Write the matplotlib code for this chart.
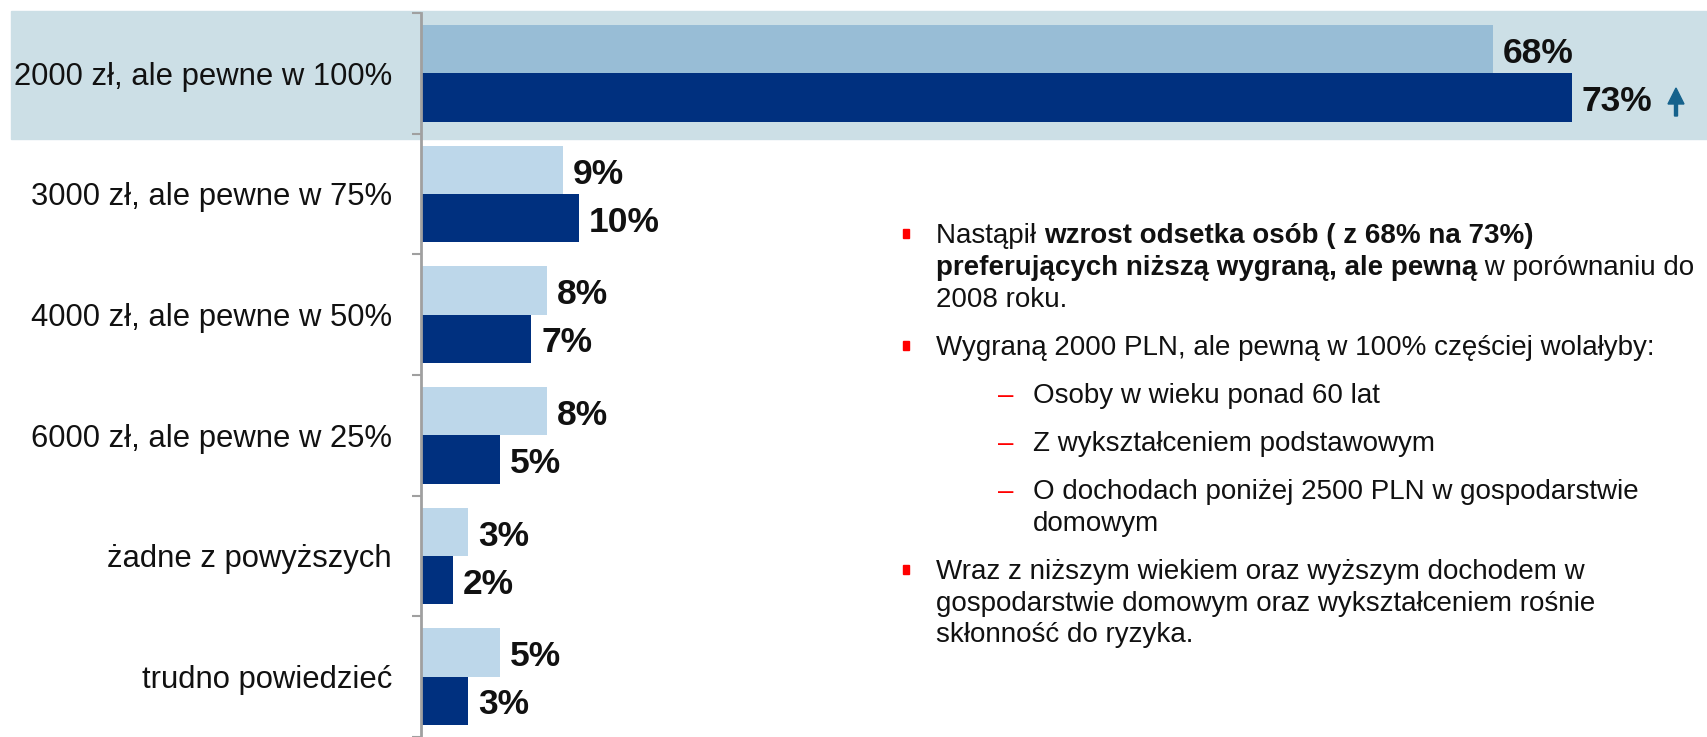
import numpy as np
import matplotlib
matplotlib.use("Agg")
import matplotlib.pyplot as plt
from matplotlib.patches import Rectangle, FancyArrow

plt.rcParams["font.family"] = ["Liberation Sans", "DejaVu Sans"]

categories = [
    "2000 zł, ale pewne w 100%",
    "3000 zł, ale pewne w 75%",
    "4000 zł, ale pewne w 50%",
    "6000 zł, ale pewne w 25%",
    "żadne z powyższych",
    "trudno powiedzieć",
]
v_2008 = [68, 9, 8, 8, 3, 5]
v_2010 = [73, 10, 7, 5, 2, 3]
value_labels_2008 = ["68%", "9%", "8%", "8%", "3%", "5%"]
value_labels_2010 = ["73%", "10%", "7%", "5%", "2%", "3%"]

# bullet text: (kind, list of lines, each line a list of (text, weight) runs)
bullets = [
    ("main", [[("Nastąpił ", "normal"), ("wzrost odsetka osób ( z 68% na 73%)", "bold")],
              [("preferujących niższą wygraną, ale pewną", "bold"), (" w porównaniu do", "normal")],
              [("2008 roku.", "normal")]]),
    ("main", [[("Wygraną 2000 PLN, ale pewną w 100% częściej wolałyby:", "normal")]]),
    ("sub", [[("Osoby w wieku ponad 60 lat", "normal")]]),
    ("sub", [[("Z wykształceniem podstawowym", "normal")]]),
    ("sub", [[("O dochodach poniżej 2500 PLN w gospodarstwie", "normal")],
             [("domowym", "normal")]]),
    ("main", [[("Wraz z niższym wiekiem oraz wyższym dochodem w", "normal")],
              [("gospodarstwie domowym oraz wykształceniem rośnie", "normal")],
              [("skłonność do ryzyka.", "normal")]]),
]
line_y = [236, 268, 300, 348, 396, 444, 492, 524, 572, 604, 635]

W, H = 1708, 737
C_BAND = "#CCDFE6"
C_LIGHT = "#BDD7EA"
C_LIGHT_HI = "#98BDD6"
C_DARK = "#00307F"
C_AXIS = "#A0A0A0"
C_TEXT = "#111111"


def fx(px):
    return px / W


def fy(py):
    return 1 - py / H


def text_width(fig, renderer, s, size, weight):
    """Width in pixels, spaces included (measured between two I's)."""
    t1 = fig.text(0, 0, "I" + s + "I", fontsize=size, fontweight=weight)
    t2 = fig.text(0, 0, "II", fontsize=size, fontweight=weight)
    w = t1.get_window_extent(renderer).width - t2.get_window_extent(renderer).width
    t1.remove()
    t2.remove()
    return w


def main() -> None:
    fig = plt.figure(figsize=(W / 100, H / 100), dpi=100)
    renderer = fig.canvas.get_renderer()

    # highlight band for the first category
    fig.patches.append(Rectangle((fx(11), fy(139)), fx(W - 11), (139 - 11) / H,
                                 transform=fig.transFigure, color=C_BAND, zorder=-10))

    ax_left, ax_top = 421, 13
    ax = fig.add_axes([fx(ax_left), 0, fx(W - ax_left), (H - ax_top) / H])
    ax.patch.set_alpha(0)

    y = np.arange(len(categories))
    h = 0.4
    light_colors = [C_LIGHT_HI] + [C_LIGHT] * (len(categories) - 1)
    ax.barh(y - h / 2, v_2008, height=h, color=light_colors, zorder=2)
    ax.barh(y + h / 2, v_2010, height=h, color=C_DARK, zorder=2)

    px_per_unit = (1572 - ax_left) / 73
    ax.set_xlim(0, (W - ax_left) / px_per_unit)
    ax.set_ylim(len(categories) - 0.5, -0.5)

    for i in range(len(categories)):
        ax.annotate(value_labels_2008[i], (v_2008[i], y[i] - h / 2), xytext=(7, -3),
                    textcoords="offset points", va="center", ha="left",
                    fontsize=25.5, fontweight="bold", color=C_TEXT)
        ax.annotate(value_labels_2010[i], (v_2010[i], y[i] + h / 2), xytext=(7, -3),
                    textcoords="offset points", va="center", ha="left",
                    fontsize=25.5, fontweight="bold", color=C_TEXT)

    ax.set_yticks(y)
    ax.set_yticklabels(categories, fontsize=22.3, color=C_TEXT)
    ax.tick_params(axis="y", which="major", length=0, pad=21)
    ax.set_yticks(np.arange(-0.5, len(categories), 1.0), minor=True)
    ax.tick_params(axis="y", which="minor", length=6.5, width=1.5, color=C_AXIS)
    ax.set_xticks([])
    for side in ["top", "right", "bottom"]:
        ax.spines[side].set_visible(False)
    ax.spines["left"].set_color(C_AXIS)
    ax.spines["left"].set_linewidth(2)

    # arrow showing the increase
    fig.patches.append(FancyArrow(fx(1676), fy(116), 0, (116 - 88) / H,
                                  width=fx(3), head_width=fx(16), head_length=16 / H,
                                  length_includes_head=True, transform=fig.transFigure,
                                  color="#15628C", zorder=5))

    # bullet text on the right
    size = 20
    x_main, x_sub = 936, 1033
    k = 0
    for kind, lines in bullets:
        first_y = line_y[k]
        if kind == "main":
            fig.patches.append(Rectangle((fx(903), fy(first_y + 2)), fx(6), 9 / H,
                                         transform=fig.transFigure, color="#FF0000"))
            x0 = x_main
        else:
            fig.text(fx(998), fy(first_y), "–", fontsize=size, color="#FF0000",
                     va="center", ha="left")
            x0 = x_sub
        for runs in lines:
            x = x0
            for s, weight in runs:
                fig.text(fx(x), fy(line_y[k]), s, fontsize=size, fontweight=weight,
                         color=C_TEXT, va="center", ha="left")
                x += text_width(fig, renderer, s, size, weight)
            k += 1

    fig.savefig("out.png", dpi=100)


if __name__ == "__main__":
    main()
